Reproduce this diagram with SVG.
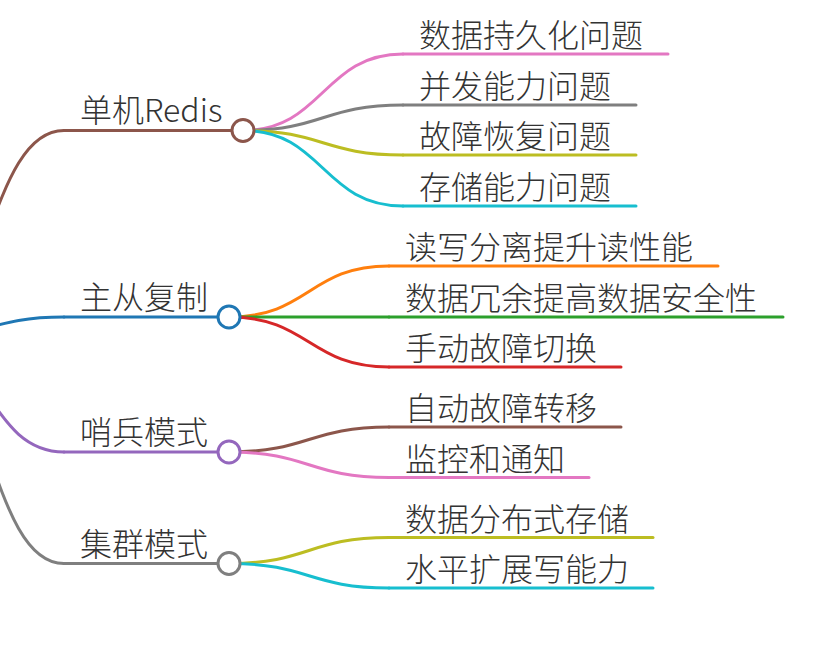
<svg xmlns="http://www.w3.org/2000/svg" width="830" height="649" viewBox="0 0 830 649">
<style>
  text { font-family: "Noto Sans CJK SC", "Noto Sans", sans-serif; font-size: 32px; font-weight: 300; fill: #333333; }
  .ln { fill: none; stroke-width: 3; stroke-linecap: round; }
  .dot { fill: #ffffff; stroke-width: 3; }
</style>
<rect width="830" height="649" fill="#ffffff"/>
<g id="connectors">
  <!-- root to level 1 -->
  <path class="ln" stroke="#8c564b" d="M-89,339 C-12.5,339 -12.5,130.5 64,130.5"/>
  <path class="ln" stroke="#1f77b4" d="M-89,339 C-12.5,339 -12.5,317 64,317"/>
  <path class="ln" stroke="#9467bd" d="M-89,339 C-12.5,339 -12.5,452 64,452"/>
  <path class="ln" stroke="#7f7f7f" d="M-89,339 C-12.5,339 -12.5,563.5 64,563.5"/>
  <!-- 单机Redis children -->
  <path class="ln" stroke="#e377c2" d="M243,130.5 C323,130.5 323,54 403,54"/>
  <path class="ln" stroke="#7f7f7f" d="M243,130.5 C323,130.5 323,105 403,105"/>
  <path class="ln" stroke="#bcbd22" d="M243,130.5 C323,130.5 323,155 403,155"/>
  <path class="ln" stroke="#17becf" d="M243,130.5 C323,130.5 323,206 403,206"/>
  <!-- 主从复制 children -->
  <path class="ln" stroke="#ff7f0e" d="M229,317 C309,317 309,266 389,266"/>
  <path class="ln" stroke="#2ca02c" d="M229,317 C309,317 309,317 389,317"/>
  <path class="ln" stroke="#d62728" d="M229,317 C309,317 309,367 389,367"/>
  <!-- 哨兵模式 children -->
  <path class="ln" stroke="#8c564b" d="M229,452 C309,452 309,427 389,427"/>
  <path class="ln" stroke="#e377c2" d="M229,452 C309,452 309,477.5 389,477.5"/>
  <!-- 集群模式 children -->
  <path class="ln" stroke="#bcbd22" d="M229,563.5 C309,563.5 309,537.5 389,537.5"/>
  <path class="ln" stroke="#17becf" d="M229,563.5 C309,563.5 309,588 389,588"/>
</g>

<g id="n-standalone">
  <line class="ln" stroke="#8c564b" x1="64" y1="130.5" x2="243" y2="130.5"/>
  <text x="80" y="122">单机Redis</text>
  <circle class="dot" stroke="#8c564b" cx="243" cy="130.5" r="11"/>
</g>
<g id="n-standalone-1">
  <line class="ln" stroke="#e377c2" x1="403" y1="54" x2="668" y2="54"/>
  <text x="419" y="47">数据持久化问题</text>
</g>
<g id="n-standalone-2">
  <line class="ln" stroke="#7f7f7f" x1="403" y1="105" x2="636" y2="105"/>
  <text x="419" y="98">并发能力问题</text>
</g>
<g id="n-standalone-3">
  <line class="ln" stroke="#bcbd22" x1="403" y1="155" x2="636" y2="155"/>
  <text x="419" y="148">故障恢复问题</text>
</g>
<g id="n-standalone-4">
  <line class="ln" stroke="#17becf" x1="403" y1="206" x2="636" y2="206"/>
  <text x="419" y="199">存储能力问题</text>
</g>

<g id="n-replication">
  <line class="ln" stroke="#1f77b4" x1="64" y1="317" x2="229" y2="317"/>
  <text x="80" y="309">主从复制</text>
  <circle class="dot" stroke="#1f77b4" cx="229" cy="317" r="11"/>
</g>
<g id="n-replication-1">
  <line class="ln" stroke="#ff7f0e" x1="389" y1="266" x2="718" y2="266"/>
  <text x="405" y="259">读写分离提升读性能</text>
</g>
<g id="n-replication-2">
  <line class="ln" stroke="#2ca02c" x1="389" y1="317" x2="783" y2="317"/>
  <text x="405" y="310">数据冗余提高数据安全性</text>
</g>
<g id="n-replication-3">
  <line class="ln" stroke="#d62728" x1="389" y1="367" x2="621" y2="367"/>
  <text x="405" y="360">手动故障切换</text>
</g>

<g id="n-sentinel">
  <line class="ln" stroke="#9467bd" x1="64" y1="452" x2="229" y2="452"/>
  <text x="80" y="444">哨兵模式</text>
  <circle class="dot" stroke="#9467bd" cx="229" cy="452" r="11"/>
</g>
<g id="n-sentinel-1">
  <line class="ln" stroke="#8c564b" x1="389" y1="427" x2="621" y2="427"/>
  <text x="405" y="420">自动故障转移</text>
</g>
<g id="n-sentinel-2">
  <line class="ln" stroke="#e377c2" x1="389" y1="477.5" x2="589" y2="477.5"/>
  <text x="405" y="470.5">监控和通知</text>
</g>

<g id="n-cluster">
  <line class="ln" stroke="#7f7f7f" x1="64" y1="563.5" x2="229" y2="563.5"/>
  <text x="80" y="555.5">集群模式</text>
  <circle class="dot" stroke="#7f7f7f" cx="229" cy="563.5" r="11"/>
</g>
<g id="n-cluster-1">
  <line class="ln" stroke="#bcbd22" x1="389" y1="537.5" x2="653" y2="537.5"/>
  <text x="405" y="530.5">数据分布式存储</text>
</g>
<g id="n-cluster-2">
  <line class="ln" stroke="#17becf" x1="389" y1="588" x2="653" y2="588"/>
  <text x="405" y="581">水平扩展写能力</text>
</g>
</svg>
